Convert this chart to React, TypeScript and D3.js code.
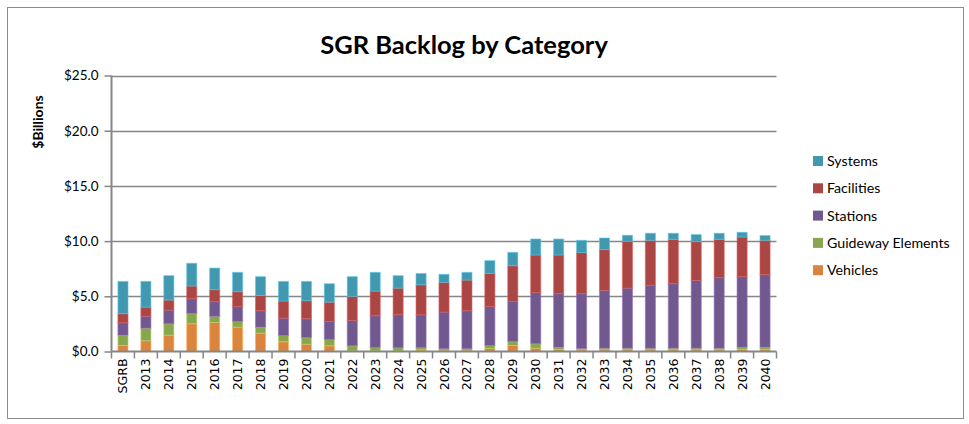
import React, { useEffect, useRef } from 'react';
import * as d3 from 'd3';

const years = ['SGRB', '2013', '2014', '2015', '2016', '2017', '2018', '2019', '2020', '2021', '2022', '2023', '2024', '2025', '2026', '2027', '2028', '2029', '2030', '2031', '2032', '2033', '2034', '2035', '2036', '2037', '2038', '2039', '2040'];

const vehicles = [0.54, 0.97, 1.48, 2.51, 2.63, 2.21, 1.66, 0.88, 0.66, 0.52, 0.05, 0.05, 0.05, 0.15, 0.12, 0.12, 0.27, 0.54, 0.3, 0.2, 0.15, 0.15, 0.15, 0.15, 0.15, 0.15, 0.15, 0.2, 0.2];
const guideway = [0.94, 1.14, 1.03, 0.94, 0.55, 0.51, 0.55, 0.57, 0.61, 0.57, 0.47, 0.31, 0.29, 0.2, 0.13, 0.13, 0.27, 0.37, 0.4, 0.19, 0.12, 0.15, 0.15, 0.15, 0.15, 0.15, 0.15, 0.19, 0.19];
const stations = [1.12, 1.09, 1.24, 1.33, 1.33, 1.34, 1.48, 1.57, 1.7, 1.63, 2.29, 2.88, 2.99, 2.97, 3.32, 3.44, 3.54, 3.63, 4.63, 4.85, 4.97, 5.24, 5.44, 5.69, 5.84, 6.14, 6.39, 6.39, 6.57];
const facilities = [0.82, 0.82, 0.91, 1.15, 1.09, 1.36, 1.39, 1.55, 1.63, 1.75, 2.18, 2.23, 2.41, 2.72, 2.69, 2.78, 3.0, 3.23, 3.41, 3.5, 3.72, 3.69, 4.24, 4.08, 4.02, 3.51, 3.47, 3.59, 3.11];
const systems = [2.93, 2.33, 2.21, 2.06, 1.96, 1.75, 1.7, 1.78, 1.75, 1.67, 1.79, 1.7, 1.13, 1.03, 0.73, 0.7, 1.15, 1.21, 1.45, 1.45, 1.11, 1.05, 0.55, 0.64, 0.55, 0.64, 0.55, 0.43, 0.43];

const seriesNames = ['Vehicles', 'Guideway Elements', 'Stations', 'Facilities', 'Systems'];
const seriesColors = ['#DB843D', '#89A54E', '#71588F', '#AA4643', '#4198AF'];
const yTicks = [0, 5, 10, 15, 20, 25];

const FONT = 'Lato, Calibri, sans-serif';

const App = () => {
  const svgRef = useRef<SVGSVGElement>(null);

  useEffect(() => {
    const width = 969;
    const height = 424;
    const plot = { left: 111.5, right: 776.5, top: 75.5, bottom: 351.5 };

    const svg = d3.select(svgRef.current);
    svg.selectAll('*').remove();
    svg.attr('width', width).attr('height', height);

    svg.append('rect')
      .attr('x', 7.5).attr('y', 7.5)
      .attr('width', 956).attr('height', 411)
      .attr('fill', 'white')
      .attr('stroke', '#8c8c8c')
      .attr('stroke-width', 1);

    const table = years.map((year, i) => ({
      year,
      Vehicles: vehicles[i],
      'Guideway Elements': guideway[i],
      Stations: stations[i],
      Facilities: facilities[i],
      Systems: systems[i],
    }));

    const x = d3.scaleBand().domain(years).range([plot.left, plot.right]).paddingInner(0.56).paddingOuter(0.28);
    const y = d3.scaleLinear().domain([0, 25]).range([plot.bottom, plot.top]);
    const color = d3.scaleOrdinal<string, string>().domain(seriesNames).range(seriesColors);

    // gridlines
    svg.append('g')
      .selectAll('line')
      .data(yTicks.filter(t => t > 0))
      .enter()
      .append('line')
      .attr('x1', plot.left).attr('x2', plot.right)
      .attr('y1', d => Math.round(y(d)) + 0.5).attr('y2', d => Math.round(y(d)) + 0.5)
      .attr('stroke', '#868686')
      .attr('stroke-width', 1.5);

    // stacked bars
    const stack = d3.stack<any>().keys(seriesNames);
    const layers = stack(table as any);

    svg.append('g')
      .selectAll('g')
      .data(layers)
      .enter()
      .append('g')
      .attr('fill', d => color(d.key))
      .attr('stroke', d => d3.color(color(d.key))!.brighter(0.8).formatHex())
      .attr('stroke-opacity', 0.6)
      .attr('stroke-width', 1)
      .selectAll('rect')
      .data(d => d)
      .enter()
      .append('rect')
      .attr('x', d => x(d.data.year)!)
      .attr('width', x.bandwidth())
      .attr('y', d => y(d[1]))
      .attr('height', d => Math.max(0, y(d[0]) - y(d[1])));

    // y axis
    const yAxis = svg.append('g')
      .attr('transform', `translate(${plot.left},0)`)
      .call(d3.axisLeft(y).tickValues(yTicks).tickSize(7).tickFormat(d => `$${(+d).toFixed(1)}`));
    yAxis.select('.domain').attr('stroke', '#868686').attr('stroke-width', 2).attr('d', `M0,${plot.top}V${plot.bottom}`);
    yAxis.selectAll('.tick line').attr('stroke', '#868686').attr('stroke-width', 1.5);
    yAxis.selectAll('.tick text')
      .attr('x', -13)
      .attr('fill', '#000')
      .style('font-family', FONT)
      .style('font-size', '13.5px');

    // x axis with ticks between categories
    const xAxis = svg.append('g').attr('transform', `translate(0,${plot.bottom})`);
    const step = x.step();
    xAxis.append('line')
      .attr('x1', plot.left).attr('x2', plot.right)
      .attr('stroke', '#868686').attr('stroke-width', 2);
    xAxis.selectAll('line.tk')
      .data(d3.range(years.length + 1))
      .enter()
      .append('line')
      .attr('class', 'tk')
      .attr('x1', i => plot.left + i * step).attr('x2', i => plot.left + i * step)
      .attr('y1', 0).attr('y2', 7)
      .attr('stroke', '#868686').attr('stroke-width', 1.5);
    xAxis.selectAll('text')
      .data(years)
      .enter()
      .append('text')
      .attr('transform', d => `translate(${x(d)! + x.bandwidth() / 2 + 4.5},7) rotate(-90)`)
      .attr('text-anchor', 'end')
      .style('font-family', '"DejaVu Sans", Verdana, sans-serif')
      .style('font-size', '12.5px')
      .text(d => d);

    // title
    svg.append('text')
      .attr('x', 464).attr('y', 54)
      .attr('text-anchor', 'middle')
      .style('font-family', FONT)
      .style('font-weight', 'bold')
      .style('font-size', '25.5px')
      .text('SGR Backlog by Category');

    svg.append('text')
      .attr('transform', 'translate(43,122) rotate(-90)')
      .attr('text-anchor', 'middle')
      .style('font-family', FONT)
      .style('font-weight', 'bold')
      .style('font-size', '14px')
      .text('$Billions');

    // legend, top series first
    const legend = svg.append('g')
      .selectAll('g')
      .data(seriesNames.slice().reverse())
      .enter()
      .append('g')
      .attr('transform', (d, i) => `translate(813,${161 + i * 27.3})`);
    legend.append('rect')
      .attr('x', 0).attr('y', -5)
      .attr('width', 10).attr('height', 10)
      .attr('fill', d => color(d));
    legend.append('text')
      .attr('x', 14).attr('y', 5)
      .style('font-family', FONT)
      .style('font-size', '14.2px')
      .text(d => d);
  }, []);

  return <svg ref={svgRef} style={{ position: 'absolute', left: 0, top: 0 }}></svg>;
};

export default App;
